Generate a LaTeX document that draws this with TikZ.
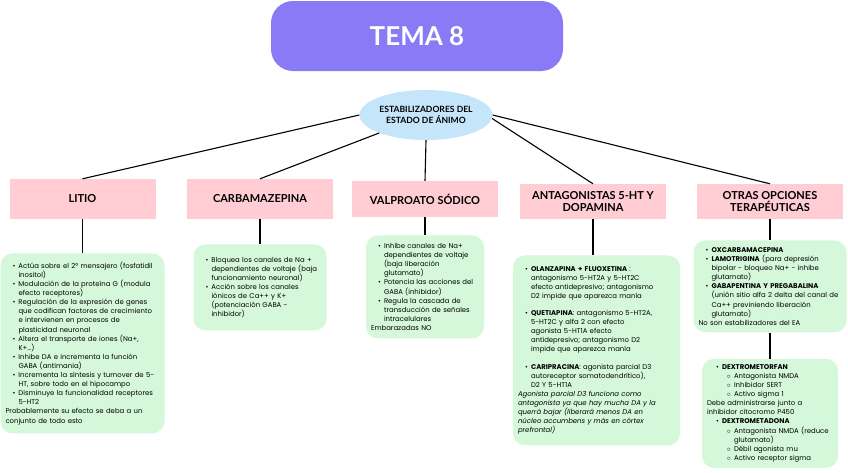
\documentclass[tikz,border=0pt]{standalone}
\usepackage{fontspec}
\setmainfont{Poppins}
\newfontfamily\headFont{Lato}
\usepackage{xcolor}
\definecolor{temaPurple}{HTML}{8B7AF6}
\definecolor{ovalBlue}{HTML}{C5E5FB}
\definecolor{headPink}{HTML}{FFCDD3}
\definecolor{noteGreen}{HTML}{D5F8DA}
\usepackage{tikz}
\usetikzlibrary{shapes,positioning,calc,shapes.geometric}
\newcommand{\bulLine}[2][13pt]{{\leftskip=#1\noindent\llap{\textbullet\hspace{3pt}}#2\par}}
\newcommand{\subLine}[1]{{\leftskip=27pt\noindent\llap{$\circ$\hspace{3pt}}#1\par}}
\newcommand{\plainLine}[1]{{\noindent #1\par}}
\tikzset{%
  temaBox/.style={%
    rectangle,
    rounded corners=22pt,
    fill=temaPurple,
    minimum width=292pt,
    minimum height=70pt,
    text=white,
    font=\headFont\bfseries\fontsize{26}{30}\selectfont
  },
  ovalNode/.style={%
    ellipse,
    fill=ovalBlue,
    minimum width=133pt,
    minimum height=50pt,
    inner xsep=-8pt,
    inner ysep=0pt,
    align=center,
    font=\headFont\bfseries\fontsize{8.6}{10.4}\selectfont
  },
  drugHead/.style={%
    rectangle,
    fill=headPink,
    minimum width=146pt,
    minimum height=40pt,
    inner sep=2pt,
    align=center,
    font=\headFont\bfseries\fontsize{11}{12.5}\selectfont
  },
  noteBox/.style={%
    rectangle,
    rounded corners=12pt,
    fill=noteGreen,
    inner xsep=5pt,
    inner ysep=4pt,
    align=left,
    font=\fontsize{6.9}{9.1}\selectfont
  },
  joinLine/.style={%
    line width=1.1pt,
    color=black
  }
}

\begin{document}
\begin{tikzpicture}[x=1pt,y=-1pt]
  \useasboundingbox (0,0) rectangle (848,472);

  \node[temaBox] (tema) at (417,36) {TEMA 8};
  \node[ovalNode] (estab) at (426,115) {ESTABILIZADORES DEL\\ESTADO DE ÁNIMO};

  \node[drugHead] (litio) at (82.5,199) {LITIO};
  \node[drugHead] (carba) at (260,199) {CARBAMAZEPINA};
  \node[drugHead, minimum height=36pt] (valp) at (425,199) {VALPROATO SÓDICO};
  \node[drugHead, minimum height=35pt] (anta) at (593,201.5) {ANTAGONISTAS 5-HT Y\\DOPAMINA};
  \node[drugHead, minimum height=35pt] (otras) at (770,201.5) {OTRAS OPCIONES\\TERAPÉUTICAS};

  % notas de cada grupo
  \node[noteBox, text width=154pt, minimum height=180pt, below=34pt of litio] (litioTxt) {%
    \bulLine{Actúa sobre el 2º mensajero (fosfatidil\newline inositol)}
    \bulLine{Modulación de la proteína G (modula\newline efecto receptores)}
    \bulLine{Regulación de la expresión de genes\newline que codifican factores de crecimiento\newline e intervienen en procesos de\newline plasticidad neuronal}
    \bulLine{Altera el transporte de iones (Na+,\newline K+…)}
    \bulLine{Inhibe DA e incrementa la función\newline GABA (antimania)}
    \bulLine{Incrementa la síntesis y turnover de 5-\newline HT, sobre todo en el hipocampo}
    \bulLine{Disminuye la funcionalidad receptores\newline 5-HT2}
    \plainLine{Probablemente su efecto se deba a un\newline conjunto de todo esto}};

  \node[noteBox, text width=123pt, minimum height=86pt, below=25pt of carba] (carbaTxt) {%
    \bulLine{Bloquea los canales de Na +\newline dependientes de voltaje (baja\newline funcionamiento neuronal)}
    \bulLine{Acción sobre los canales\newline iónicos de Ca++ y K+\newline (potenciación GABA -\newline inhibidor)}};

  \node[noteBox, text width=108pt, minimum height=103pt, below=18pt of valp] (valpTxt) {%
    \bulLine{Inhibe canales de Na+\newline dependientes de voltaje\newline (baja liberación\newline glutamato)}
    \bulLine{Potencia las acciones del\newline GABA (inhibidor)}
    \bulLine{Regula la cascada de\newline transducción de señales\newline intracelulares}
    \plainLine{Embarazadas NO}};

  \node[noteBox, text width=157pt, minimum height=190pt, below=36pt of anta, xshift=3.5pt] (antaTxt) {%
    \bulLine{\textbf{OLANZAPINA + FLUOXETINA} :\newline antagonismo 5-HT2A y 5-HT2C\newline efecto antidepresivo; antagonismo\newline D2 impide que aparezca manía}
    \vspace{8pt}
    \bulLine{\textbf{QUETIAPINA}: antagonismo 5-HT2A,\newline 5-HT2C y alfa 2 con efecto\newline agonista 5-HT1A efecto\newline antidepresivo; antagonismo D2\newline impide que aparezca manía}
    \vspace{8pt}
    \bulLine{\textbf{CARIPRACINA}: agonista parcial D3\newline autoreceptor somatodendrítico),\newline D2 Y 5-HT1A}
    \plainLine{\itshape Agonista parcial D3 funciona como\newline antagonista ya que hay mucha DA y la\newline querrá bajar (liberará menos DA en\newline núcleo accumbens y más en córtex\newline prefrontal)}};

  \node[noteBox, text width=143pt, minimum height=92pt, below=21pt of otras] (otrasTxt) {%
    \bulLine{\textbf{OXCARBAMACEPINA}}
    \bulLine{\textbf{LAMOTRIGINA} (para depresión\newline bipolar - bloqueo Na+ - inhibe\newline glutamato)}
    \bulLine{\textbf{GABAPENTINA Y PREGABALINA}\newline (unión sitio alfa 2 delta del canal de\newline Ca++ previniendo liberación\newline glutamato)}
    \plainLine{No son estabilizadores del EA}};

  \node[noteBox, text width=126pt, minimum height=109pt, below=26pt of otrasTxt] (otrasTwo) {%
    \bulLine[15pt]{\textbf{DEXTROMETORFAN}}
    \subLine{Antagonista NMDA}
    \subLine{Inhibidor SERT}
    \subLine{Activo sigma 1}
    \plainLine{Debe administrarse junto a\newline inhibidor citocromo P450}
    \bulLine[15pt]{\textbf{DEXTROMETADONA}}
    \subLine{Antagonista NMDA (reduce\newline glutamato)}
    \subLine{Débil agonista mu}
    \subLine{Activo receptor sigma}};

  % conexiones
  \draw[joinLine] (estab.west) -- (litio.north);
  \draw[joinLine] (estab) -- (carba.north);
  \draw[joinLine] (estab.south) -- (valp.north);
  \draw[joinLine] (estab.-3) -- (anta.north);
  \draw[joinLine] (estab.east) -- (otras.north);
  \draw[joinLine] (litio.south) -- (litio.south |- litioTxt.north);
  \draw[joinLine] (carba.south) -- (carba.south |- carbaTxt.north);
  \draw[joinLine] (valp.south) -- (valp.south |- valpTxt.north);
  \draw[joinLine] (anta.south) -- (anta.south |- antaTxt.north);
  \draw[joinLine] (otras.south) -- (otras.south |- otrasTxt.north);
  \draw[joinLine] (otrasTxt.south) -- (otrasTwo.north);
\end{tikzpicture}
\end{document}
